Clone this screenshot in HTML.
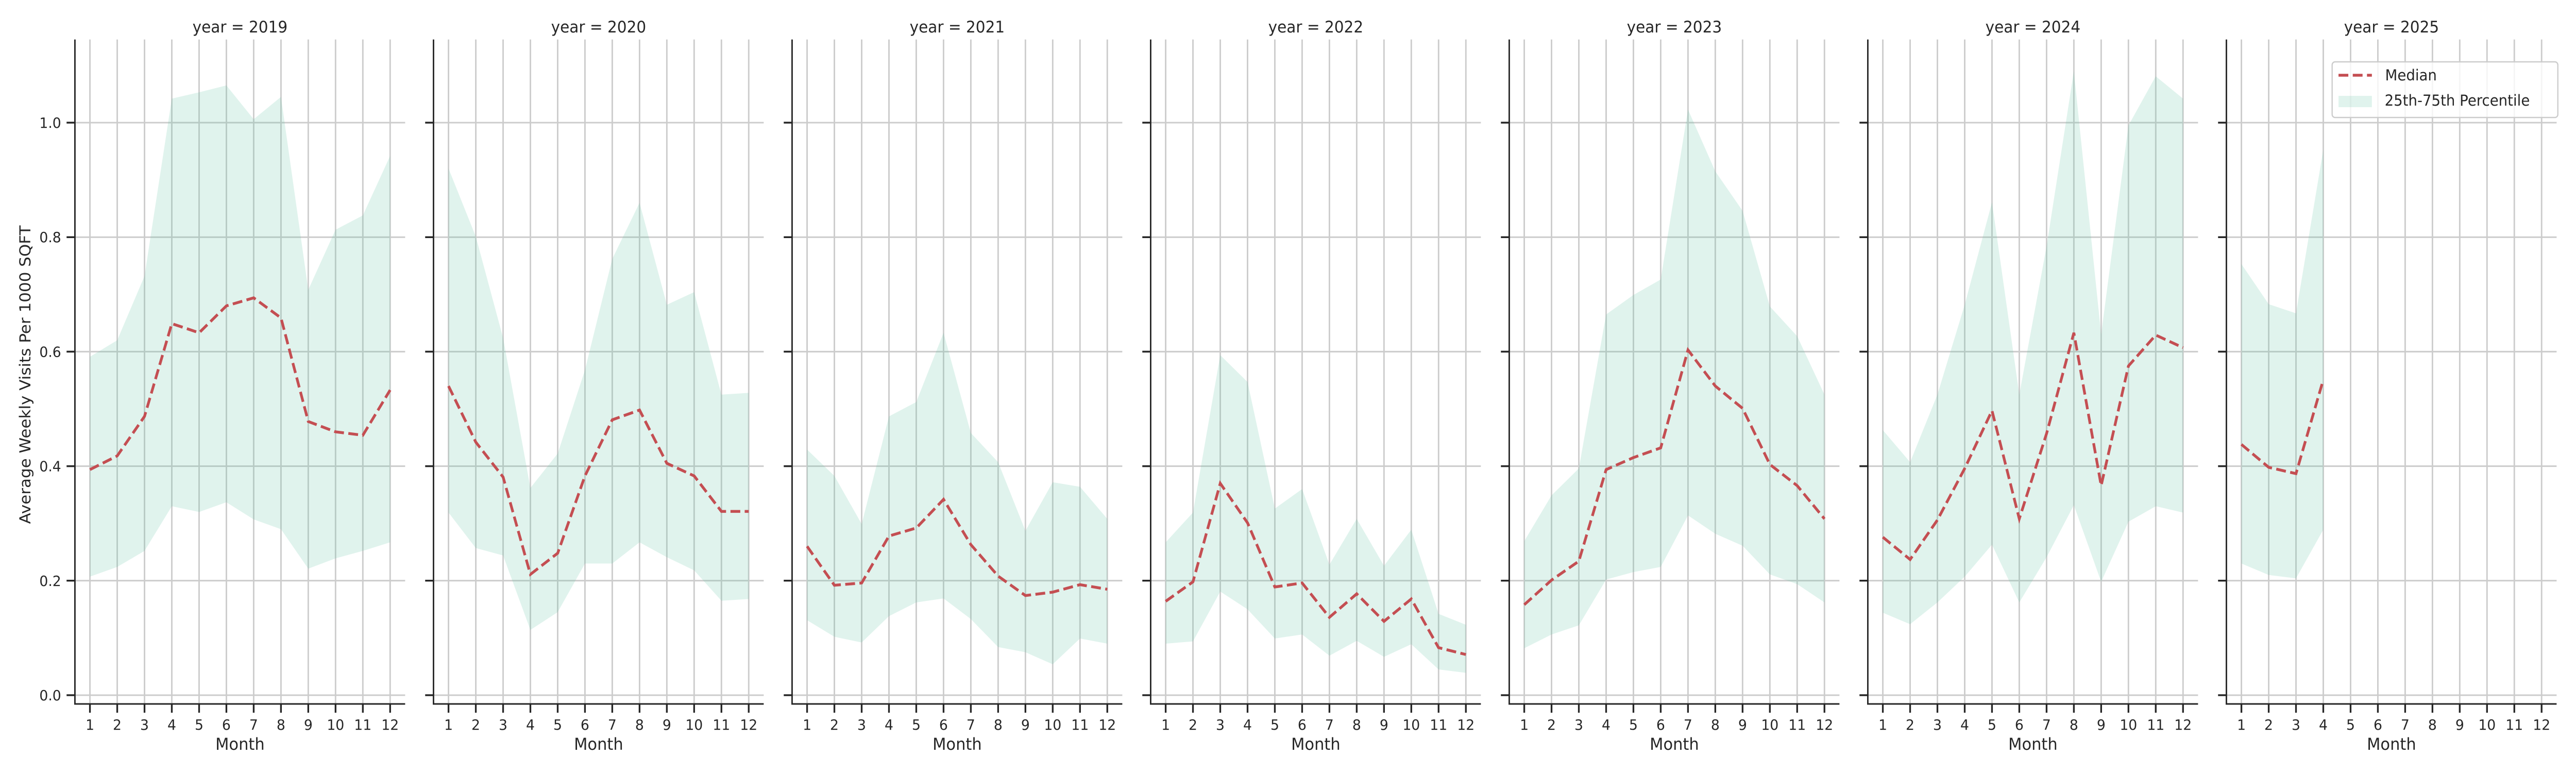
<!DOCTYPE html>
<html><head><meta charset="utf-8"><style>
html,body{margin:0;padding:0;background:#fff;overflow:hidden;width:100%;height:100%}
svg{display:block;width:100vw;height:100vh}
text{font-family:"DejaVu Sans","Liberation Sans",sans-serif;fill:#262626}
</style></head><body>
<svg id="chart" viewBox="0 0 5250 1500" preserveAspectRatio="none" xmlns="http://www.w3.org/2000/svg"></svg>
<script>
const years = [2019,2020,2021,2022,2023,2024,2025];
const yTicks = [0.0,0.2,0.4,0.6,0.8,1.0];
const yTickLabels = ["0.0","0.2","0.4","0.6","0.8","1.0"];
const months = [1,2,3,4,5,6,7,8,9,10,11,12];
const median2019 = [0.394,0.418,0.487,0.649,0.633,0.680,0.694,0.659,0.478,0.460,0.454,0.533];
const p75_2019 = [0.591,0.620,0.732,1.042,1.053,1.065,1.006,1.045,0.708,0.813,0.838,0.942];
const p25_2019 = [0.207,0.224,0.252,0.330,0.320,0.337,0.307,0.290,0.221,0.239,0.252,0.267];
const median2020 = [0.540,0.442,0.381,0.211,0.248,0.383,0.481,0.498,0.405,0.383,0.321,0.321];
const p75_2020 = [0.920,0.801,0.624,0.362,0.422,0.568,0.762,0.860,0.682,0.704,0.525,0.528];
const p25_2020 = [0.319,0.257,0.244,0.114,0.145,0.230,0.230,0.267,0.241,0.218,0.165,0.168];
const median2021 = [0.260,0.192,0.196,0.278,0.292,0.342,0.263,0.208,0.174,0.180,0.193,0.185];
const p75_2021 = [0.429,0.383,0.299,0.487,0.512,0.633,0.458,0.407,0.287,0.372,0.364,0.308];
const p25_2021 = [0.131,0.102,0.092,0.138,0.162,0.169,0.133,0.084,0.075,0.054,0.099,0.090];
const median2022 = [0.164,0.198,0.370,0.301,0.189,0.196,0.136,0.177,0.129,0.168,0.083,0.071];
const p75_2022 = [0.267,0.319,0.594,0.547,0.326,0.360,0.228,0.308,0.226,0.289,0.142,0.123];
const p25_2022 = [0.090,0.094,0.181,0.150,0.099,0.106,0.069,0.095,0.067,0.089,0.045,0.039];
const median2023 = [0.158,0.201,0.234,0.394,0.415,0.432,0.603,0.540,0.501,0.403,0.366,0.308];
const p75_2023 = [0.269,0.349,0.396,0.665,0.699,0.726,1.023,0.915,0.846,0.679,0.627,0.525];
const p25_2023 = [0.082,0.106,0.122,0.202,0.215,0.224,0.314,0.282,0.261,0.211,0.194,0.162];
const median2024 = [0.276,0.237,0.306,0.396,0.497,0.308,0.457,0.633,0.366,0.575,0.629,0.607];
const p75_2024 = [0.463,0.407,0.525,0.682,0.861,0.525,0.784,1.090,0.630,0.995,1.081,1.042];
const p25_2024 = [0.144,0.124,0.162,0.207,0.263,0.162,0.241,0.332,0.198,0.303,0.330,0.319];
const median2025 = [0.438,0.398,0.387,0.551];
const p75_2025 = [0.753,0.683,0.667,0.953];
const p25_2025 = [0.230,0.210,0.204,0.289];

const medians = [median2019,median2020,median2021,median2022,median2023,median2024,median2025];
const p75s = [p75_2019,p75_2020,p75_2021,p75_2022,p75_2023,p75_2024,p75_2025];
const p25s = [p25_2019,p25_2020,p25_2021,p25_2022,p25_2023,p25_2024,p25_2025];

const NS = "http://www.w3.org/2000/svg";
const svg = document.getElementById('chart');
function mk(tag, attrs, parent){const e=document.createElementNS(NS,tag);for(const k in attrs)e.setAttribute(k,attrs[k]);(parent||svg).appendChild(e);return e;}

const panelX0 = 152.7, panelStep = 730.8, panelW = 673;
const yTop = 76.6, yBot = 1366;
const xMin = 0.45, xMax = 12.55, yMin = -0.0153, yMax = 1.1453;
function xScale(p, m){return panelX0 + p*panelStep + (m - xMin)/(xMax - xMin)*panelW;}
function yScale(v){return yBot - (v - yMin)/(yMax - yMin)*(yBot - yTop);}

years.forEach((yr, p) => {
  const g = mk('g', {});
  
  
  const left = panelX0 + p*panelStep, right = left + panelW;
  yTicks.forEach(t => {
    const l = mk('line', {x1:left, x2:right, y1:yScale(t), y2:yScale(t), stroke:'#cccccc', 'stroke-width':3}, g);
    
    
  });
  months.forEach(m => {
    const l = mk('line', {x1:xScale(p,m), x2:xScale(p,m), y1:yTop, y2:yBot, stroke:'#cccccc', 'stroke-width':3}, g);
    
    
  });
  const med = medians[p], hi = p75s[p], lo = p25s[p];
  let pts = [];
  hi.forEach((v,i) => pts.push(xScale(p, months[i]) + ',' + yScale(v)));
  for (let i = lo.length-1; i >= 0; i--) pts.push(xScale(p, months[i]) + ',' + yScale(lo[i]));
  const band = mk('polygon', {points: pts.join(' '), fill:'#66c2a5', 'fill-opacity':0.2}, g);
  
  
  const line = mk('polyline', {points: med.map((v,i)=>xScale(p,months[i])+','+yScale(v)).join(' '), fill:'none', stroke:'#c44e52', 'stroke-width':5.5, 'stroke-dasharray':'20 9'}, g);
  
  
  const ya = mk('line', {x1:left, x2:left, y1:yTop, y2:yBot+1.5, stroke:'#262626', 'stroke-width':3}, g);
  
  
  const xa = mk('line', {x1:left-1.5, x2:right, y1:yBot, y2:yBot, stroke:'#262626', 'stroke-width':3}, g);
  
  
  yTicks.forEach((t,i) => {
    const tk = mk('line', {x1:left-17, x2:left, y1:yScale(t), y2:yScale(t), stroke:'#262626', 'stroke-width':3.5}, g);
    
    
    if (p === 0) {
      const tl = mk('text', {x:left-28, y:yScale(t)+10, 'text-anchor':'end', 'font-size':28}, g);
      tl.textContent = yTickLabels[i];
      
      
    }
  });
  months.forEach(m => {
    const tk = mk('line', {x1:xScale(p,m), x2:xScale(p,m), y1:yBot, y2:yBot+17, stroke:'#262626', 'stroke-width':3.5}, g);
    
    
    const tl = mk('text', {x:xScale(p,m), y:1416, 'text-anchor':'middle', 'font-size':28}, g);
    tl.textContent = String(m);
    
    
  });
  const xt = mk('text', {x:left+panelW/2, y:1455, 'text-anchor':'middle', 'font-size':32}, g);
  xt.textContent = 'Month';
  
  
  const tt = mk('text', {x:left+panelW/2, y:63, 'text-anchor':'middle', 'font-size':31}, g);
  tt.textContent = 'year = ' + yr;
  
  
});

const yl = mk('text', {x:0, y:0, 'text-anchor':'middle', 'font-size':31, transform:'translate(62,727) rotate(-90)'});
yl.textContent = 'Average Weekly Visits Per 1000 SQFT';



const lg = mk('g', {});


const lf = mk('rect', {x:4753, y:120, width:460, height:108, rx:6, fill:'#ffffff', 'fill-opacity':0.8, stroke:'#cccccc', 'stroke-width':2.5}, lg);


const ll = mk('line', {x1:4766, x2:4834, y1:146, y2:146, stroke:'#c44e52', 'stroke-width':5.5, 'stroke-dasharray':'20 9'}, lg);


const lt1 = mk('text', {x:4861, y:156, 'font-size':29}, lg);
lt1.textContent = 'Median';


const lr = mk('rect', {x:4766, y:186, width:68, height:22, fill:'#66c2a5', 'fill-opacity':0.2}, lg);


const lt2 = mk('text', {x:4860, y:205, 'font-size':29}, lg);
lt2.textContent = '25th-75th Percentile';


</script>
</body></html>
